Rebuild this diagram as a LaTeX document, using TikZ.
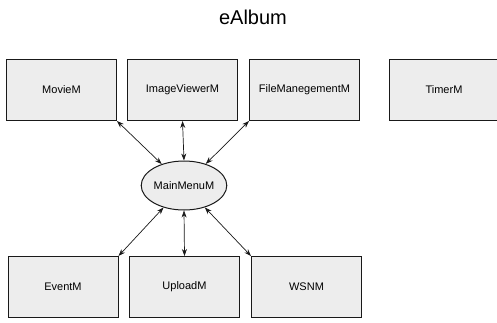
\documentclass[tikz,border=0pt]{standalone}
\usepackage{fontspec}
\setmainfont{Liberation Sans}
\usetikzlibrary{shapes.geometric,arrows.meta}
\tikzset{
  modbox/.style={
    draw=black!90, line width=1pt, fill=gray!14,
    minimum width=110pt, minimum height=61pt, inner sep=0pt,
    font=\fontsize{11pt}{13pt}\selectfont
  },
  hub/.style={
    ellipse, draw=black!90, line width=1pt, fill=gray!14,
    minimum width=84pt, minimum height=49pt, inner sep=0pt,
    font=\fontsize{11pt}{13pt}\selectfont
  },
  link/.style={
    {Stealth[length=7pt,width=5pt]}-{Stealth[length=7pt,width=5pt]},
    line width=0.7pt, black!90
  }
}

\begin{document}
\begin{tikzpicture}[x=1pt,y=-1pt]
  \useasboundingbox (0,0) rectangle (497,322);

  \node[font=\fontsize{20pt}{24pt}\selectfont] (title) at (253,17) {eAlbum};

  % upper row
  \node[modbox] (movie) at (61.5,90) {MovieM};
  \node[modbox] (viewer) at (182.5,90) {ImageViewerM};
  \node[modbox] (files) at (304.5,90) {FileManegementM};
  \node[modbox] (timer) at (444,90) {TimerM};

  \node[hub] (main) at (184,185.5) {MainMenuM};

  % lower row
  \node[modbox] (event) at (63,287) {EventM};
  \node[modbox] (upload) at (184.5,287) {UploadM};
  \node[modbox] (wsn) at (306.5,287) {WSNM};

  \draw[link] (movie.south east) -- (main);
  \draw[link] (viewer.south) -- (main.north);
  \draw[link] (files.south west) -- (main);
  \draw[link] (event.north east) -- (main);
  \draw[link] (upload.north) -- (main.south);
  \draw[link] (wsn.north west) -- (main);
\end{tikzpicture}
\end{document}
